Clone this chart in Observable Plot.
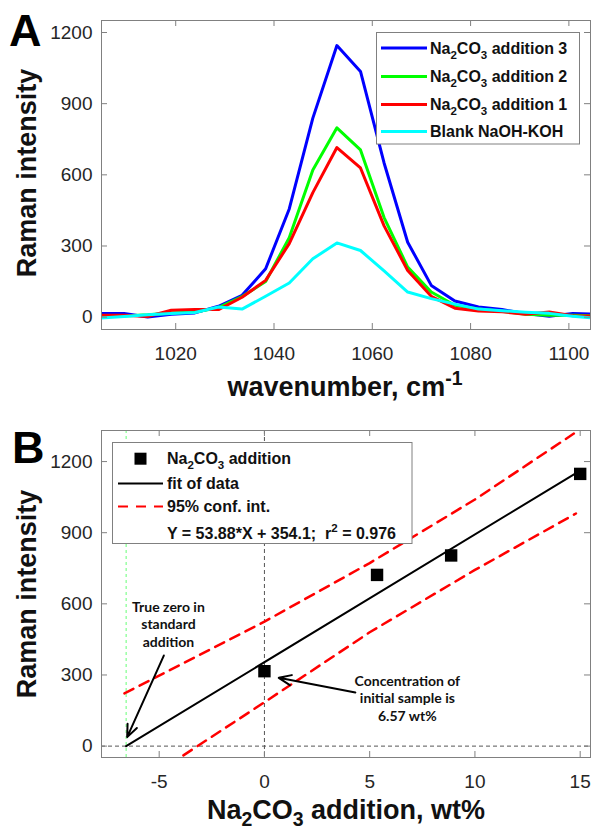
<!DOCTYPE html>
<html>
<head>
<meta charset="utf-8">
<script src="https://cdn.jsdelivr.net/npm/d3@7"></script>
<script src="https://cdn.jsdelivr.net/npm/@observablehq/plot@0.6"></script>
<style>
html, body { margin: 0; padding: 0; background: #fff; }
#root { position: relative; width: 592px; height: 832px; overflow: hidden; }
#root > svg { position: absolute; left: 0; }
</style>
</head>
<body>
<div id="root"></div>
<script>
// ---------- Panel A data: Raman spectra ----------
const wavenumber = [1004.7, 1009.5, 1014.3, 1019.1, 1023.9, 1028.7, 1033.5, 1038.3, 1043.1, 1047.9, 1052.8,
                    1057.6, 1062.4, 1067.2, 1072.0, 1076.8, 1081.6, 1086.4, 1091.2, 1096.0, 1100.8, 1105.6];
const addition3 = [15, 15, 1, 12, 18, 46, 92, 204, 456, 839, 1145, 1036, 650, 316, 134, 68, 43, 32, 15, 4, 15, 12];
const addition2 = [5, 5, 10, 18, 22, 40, 87, 150, 335, 620, 798, 705, 420, 211, 106, 50, 34, 25, 12, 8, 8, 5];
const addition1 = [8, 8, 3, 29, 32, 32, 84, 155, 310, 525, 715, 629, 385, 197, 88, 38, 26, 23, 12, 22, 6, 5];
const blank     = [-4, 3, 10, 15, 20, 43, 34, 88, 144, 246, 313, 281, 195, 106, 78, 55, 34, 27, 21, 16, 4, -5];
const seriesKeys   = ["add3", "add2", "add1", "blank"];
const seriesValues = [addition3, addition2, addition1, blank];
const seriesColors = ["#0000ff", "#00ff00", "#ff0000", "#00ffff"];

// ---------- Panel B data: standard addition ----------
const additionWt  = [0, 5.35, 8.87, 15.0];
const intensityB  = [316, 722, 804, 1148];
const fitX   = [-6.57, 15.0];
const fitY   = [0, 1162];
const upperX = [-6.65, 0, 5, 10, 14.7];
const upperY = [222, 525, 772, 1040, 1318];
const lowerX = [-3.85, 0, 5, 10, 14.8];
const lowerY = [-39, 185, 480, 743, 981];
const trueZero = -6.57;
const annotationText = ["True zero in\nstandard\naddition", "Concentration of\ninitial sample is\n6.57 wt%"];
const annotationX = [-4.56, 6.79];
const annotationY = [517, 205];
const arrowFromX = [-4.78, 4.32];
const arrowFromY = [382, 226];
const arrowToX = [-6.52, 0.68];
const arrowToY = [38, 288];

// ---------- ticks ----------
const xTicksA = [1020, 1040, 1060, 1080, 1100];
const yTicks  = [0, 300, 600, 900, 1200];
const xTicksB = [-5, 0, 5, 10, 15];

// ---------- build tables ----------
const spectra = seriesKeys.flatMap((k, i) => wavenumber.map((w, j) => ({series: k, wn: w, v: seriesValues[i][j]})));
const points = additionWt.map((x, i) => ({x, y: intensityB[i]}));
const fitRows = fitX.map((x, i) => ({x, y: fitY[i]}));
const upperRows = upperX.map((x, i) => ({x, y: upperY[i]}));
const lowerRows = lowerX.map((x, i) => ({x, y: lowerY[i]}));
const notes = annotationText.map((t, i) => ({t, x: annotationX[i], y: annotationY[i]}));
const arrows = arrowFromX.map((x, i) => ({x1: x, y1: arrowFromY[i], x2: arrowToX[i], y2: arrowToY[i]}));

const FONT = "'Liberation Sans', Arial, sans-serif";
const GRAY = "#808080";
const TXT = "#262626";
const W = 592, tickLen = 6;
const root = document.getElementById("root");

// ---------- Panel A ----------
const A = {h: 400, t: 20, b: 71, l: 101, r: 2};
const innerHA = A.h - A.t - A.b, innerWA = W - A.l - A.r;
const plotA = Plot.plot({
  width: W, height: A.h, marginTop: A.t, marginBottom: A.b, marginLeft: A.l, marginRight: A.r,
  style: {fontFamily: FONT, fontSize: "19px", color: TXT, background: "transparent"},
  x: {domain: [1004.9, 1104.4]},
  y: {domain: [-52, 1250.6]},
  color: {domain: seriesKeys, range: seriesColors},
  marks: [
    Plot.line(spectra, {x: "wn", y: "v", z: "series", stroke: "series", strokeWidth: 3, clip: true}),
    Plot.tickX(xTicksA, {x: d => d, insetTop: innerHA - tickLen, stroke: GRAY}),
    Plot.tickX(xTicksA, {x: d => d, insetBottom: innerHA - tickLen, stroke: GRAY}),
    Plot.tickY(yTicks, {y: d => d, insetRight: innerWA - tickLen, stroke: GRAY}),
    Plot.tickY(yTicks, {y: d => d, insetLeft: innerWA - tickLen, stroke: GRAY}),
    Plot.axisX({ticks: xTicksA, tickSize: 0, tickPadding: 17, label: null, tickFormat: d => String(d)}),
    Plot.axisY({ticks: yTicks, tickSize: 0, tickPadding: 9, label: null, tickFormat: d => String(d)}),
    Plot.frame({stroke: GRAY})
  ]
});
plotA.style.top = "0px";
root.appendChild(plotA);

// ---------- Panel B ----------
const B = {h: 432, t: 30, b: 75, l: 101, r: 2};
const innerHB = B.h - B.t - B.b, innerWB = W - B.l - B.r;
const plotB = Plot.plot({
  width: W, height: B.h, marginTop: B.t, marginBottom: B.b, marginLeft: B.l, marginRight: B.r,
  style: {fontFamily: FONT, fontSize: "19px", color: TXT, background: "transparent"},
  x: {domain: [-7.74, 15.49]},
  y: {domain: [-48, 1331]},
  marks: [
    Plot.ruleX([trueZero], {stroke: "#66ff77", strokeDasharray: "3,3", strokeWidth: 1}),
    Plot.ruleX([0], {stroke: "#555", strokeDasharray: "4,3", strokeWidth: 1}),
    Plot.ruleY([0], {stroke: "#555", strokeDasharray: "4,3", strokeWidth: 1}),
    Plot.line(upperRows, {x: "x", y: "y", stroke: "#ff0000", strokeWidth: 2.5, strokeDasharray: "10,7", clip: true}),
    Plot.line(lowerRows, {x: "x", y: "y", stroke: "#ff0000", strokeWidth: 2.5, strokeDasharray: "10,7", clip: true}),
    Plot.line(fitRows, {x: "x", y: "y", stroke: "#000", strokeWidth: 2}),
    Plot.dot(points, {x: "x", y: "y", symbol: "square", r: 7, fill: "#000", stroke: "none"}),
    Plot.arrow(arrows, {x1: "x1", y1: "y1", x2: "x2", y2: "y2", stroke: "#000", strokeWidth: 2, headLength: 10, headAngle: 45}),
    Plot.text(notes, {x: "x", y: "y", text: "t", fontFamily: "Lato, 'Open Sans', sans-serif", fontWeight: "bold",
                      fontSize: 14, lineHeight: 1.25, fill: "#111"}),
    Plot.tickX(xTicksB, {x: d => d, insetTop: innerHB - tickLen, stroke: GRAY}),
    Plot.tickX(xTicksB, {x: d => d, insetBottom: innerHB - tickLen, stroke: GRAY}),
    Plot.tickY(yTicks, {y: d => d, insetRight: innerWB - tickLen, stroke: GRAY}),
    Plot.tickY(yTicks, {y: d => d, insetLeft: innerWB - tickLen, stroke: GRAY}),
    Plot.axisX({ticks: xTicksB, tickSize: 0, tickPadding: 17, label: null, tickFormat: d => String(d)}),
    Plot.axisY({ticks: yTicks, tickSize: 0, tickPadding: 9, label: null, tickFormat: d => String(d)}),
    Plot.frame({stroke: GRAY})
  ]
});
plotB.style.top = "400px";
root.appendChild(plotB);

// ---------- overlay: labels and legends ----------
const ov = d3.create("svg").attr("width", W).attr("height", 832)
  .style("position", "absolute").style("top", "0px").style("left", "0px").style("pointer-events", "none");

function richText(parent, x, y, parts, o) {
  const t = parent.append("text").attr("x", x).attr("y", y)
    .attr("font-family", o.family || FONT).attr("font-size", o.size).attr("font-weight", o.weight || "bold")
    .attr("fill", o.fill || "#111").attr("text-anchor", o.anchor || "start")
    .style("white-space", "pre");
  if (o.rotate) t.attr("transform", `rotate(${o.rotate},${x},${y})`);
  let shift = 0;
  for (const [str, kind] of parts) {
    const target = kind === "sub" ? o.size * (o.subShift || 0.32) : kind === "sup" ? -o.size * 0.42 : 0;
    t.append("tspan").attr("dy", target - shift).attr("font-size", kind ? o.size * 0.72 : o.size).text(str);
    shift = target;
  }
  return t;
}

// panel letters
richText(ov, 9, 46, [["A"]], {size: 45, fill: "#000"});
richText(ov, 12, 463, [["B"]], {size: 45, fill: "#000"});

// axis titles
richText(ov, 36, 173, [["Raman intensity"]], {size: 27, anchor: "middle", rotate: -90});
richText(ov, 345, 396, [["wavenumber, cm"], ["-1", "sup"]], {size: 27, anchor: "middle"});
richText(ov, 36, 594, [["Raman intensity"]], {size: 27, anchor: "middle", rotate: -90});
richText(ov, 346, 819, [["Na"], ["2", "sub"], ["CO"], ["3", "sub"], [" addition, wt%"]], {size: 27, anchor: "middle", subShift: 0.26});

// legend A
ov.append("rect").attr("x", 376.5).attr("y", 32.5).attr("width", 203).attr("height", 111.5)
  .attr("fill", "#fff").attr("stroke", GRAY).attr("stroke-width", 1);
const legA = [
  {c: seriesColors[0], y: 48, parts: [["Na"], ["2", "sub"], ["CO"], ["3", "sub"], [" addition 3"]]},
  {c: seriesColors[1], y: 76.5, parts: [["Na"], ["2", "sub"], ["CO"], ["3", "sub"], [" addition 2"]]},
  {c: seriesColors[2], y: 104.5, parts: [["Na"], ["2", "sub"], ["CO"], ["3", "sub"], [" addition 1"]]},
  {c: seriesColors[3], y: 131.5, parts: [["Blank NaOH-KOH"]]}
];
for (const e of legA) {
  ov.append("line").attr("x1", 381).attr("x2", 427).attr("y1", e.y).attr("y2", e.y)
    .attr("stroke", e.c).attr("stroke-width", 3);
  richText(ov, 430, e.y + 5.5, e.parts, {size: 16});
}

// legend B
ov.append("rect").attr("x", 112.5).attr("y", 442.5).attr("width", 299.5).attr("height", 101)
  .attr("fill", "#fff").attr("stroke", GRAY).attr("stroke-width", 1);
ov.append("rect").attr("x", 134.5).attr("y", 452.7).attr("width", 12).attr("height", 12).attr("fill", "#000");
richText(ov, 167, 458.7 + 5.5, [["Na"], ["2", "sub"], ["CO"], ["3", "sub"], [" addition"]], {size: 16});
ov.append("line").attr("x1", 118).attr("x2", 163).attr("y1", 483.5).attr("y2", 483.5)
  .attr("stroke", "#000").attr("stroke-width", 2);
richText(ov, 167, 483.5 + 5.5, [["fit of data"]], {size: 16});
ov.append("line").attr("x1", 118).attr("x2", 163).attr("y1", 506.5).attr("y2", 506.5)
  .attr("stroke", "#ff0000").attr("stroke-width", 2).attr("stroke-dasharray", "10,8");
richText(ov, 167, 506.5 + 5.5, [["95% conf. int."]], {size: 16});
richText(ov, 167, 533 + 5.5, [["Y = 53.88*X + 354.1;  r"], ["2", "sup"], [" = 0.976"]], {size: 16});

root.appendChild(ov.node());
</script>
</body>
</html>
